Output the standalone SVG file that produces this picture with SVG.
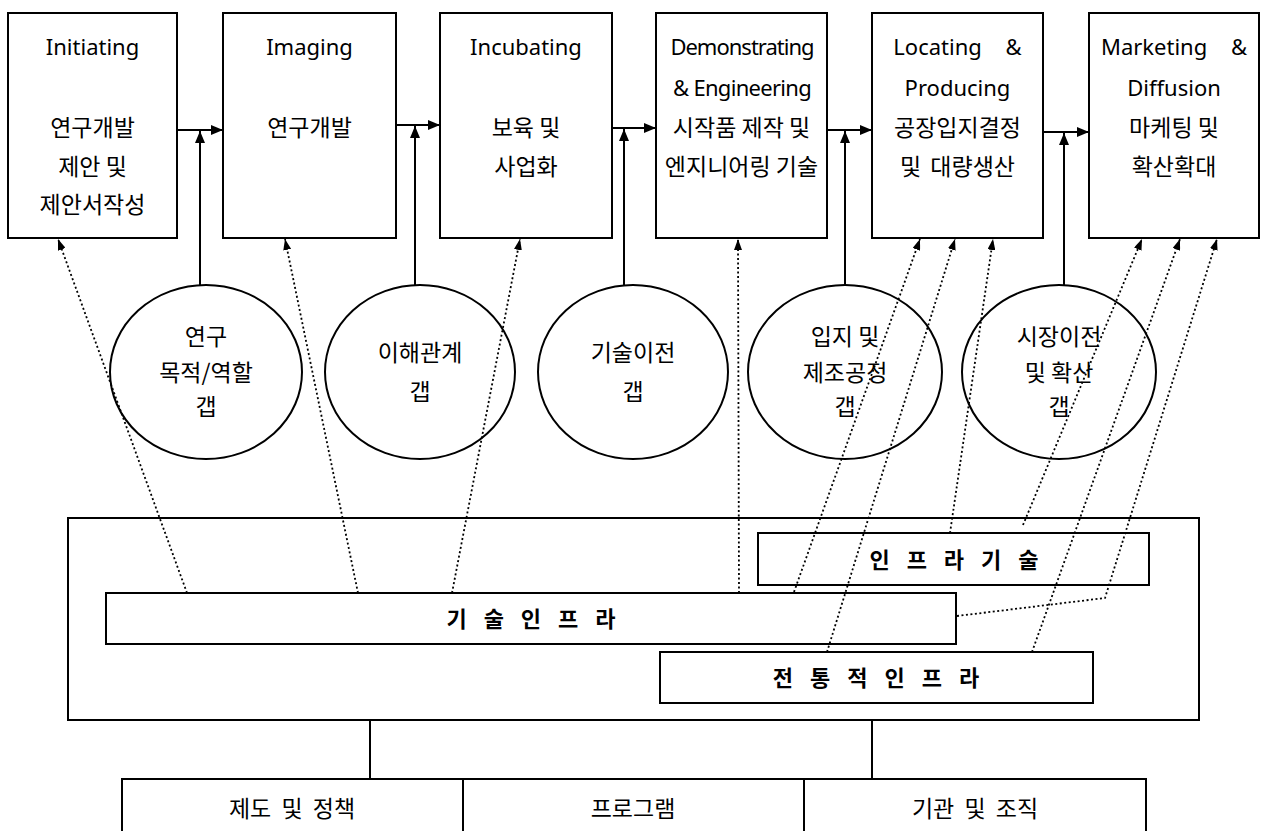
<svg xmlns="http://www.w3.org/2000/svg" width="1261" height="831" viewBox="0 0 1261 831">
<style>
.box{fill:#fff;stroke:#000;stroke-width:2}
.circ{fill:#fff;stroke:#000;stroke-width:2}
.solid{stroke:#000;stroke-width:2;fill:none}
.dot{stroke:#000;stroke-width:1.8;fill:none;stroke-dasharray:2 2.5}
.en{font-family:"Noto Sans","Noto Sans CJK KR",sans-serif;font-size:22px;text-anchor:middle;fill:#000}
.ko{font-family:"Noto Sans CJK KR",sans-serif;font-size:23px;text-anchor:middle;fill:#000}
.bar{font-family:"Noto Sans CJK KR",sans-serif;font-size:22px;font-weight:bold;letter-spacing:6px;text-anchor:middle;fill:#000}
.bot{font-family:"Noto Sans CJK KR",sans-serif;font-size:23px;text-anchor:middle;word-spacing:5px;fill:#000}
</style>
<defs>
<marker id="ah" viewBox="0 0 12 10" refX="12" refY="5" markerWidth="12" markerHeight="10" markerUnits="userSpaceOnUse" orient="auto">
<path d="M0,0 L12,5 L0,10 z" fill="#000"/>
</marker>
<marker id="ahd" viewBox="0 0 11 8" refX="11" refY="4" markerWidth="11" markerHeight="8" markerUnits="userSpaceOnUse" orient="auto">
<path d="M0,0 L11,4 L0,8 z" fill="#000"/>
</marker>
</defs>
<rect width="1261" height="831" fill="#fff"/>

<g id="connectors">
<line class="solid" x1="177" y1="130" x2="223" y2="130" marker-end="url(#ah)"/>
<line class="solid" x1="396" y1="125" x2="440" y2="125" marker-end="url(#ah)"/>
<line class="solid" x1="612" y1="128" x2="656" y2="128" marker-end="url(#ah)"/>
<line class="solid" x1="827" y1="130" x2="872" y2="130" marker-end="url(#ah)"/>
<line class="solid" x1="1043" y1="132" x2="1089" y2="132" marker-end="url(#ah)"/>
<line class="solid" x1="200" y1="285" x2="200" y2="131" marker-end="url(#ah)"/>
<line class="solid" x1="415" y1="285" x2="415" y2="126" marker-end="url(#ah)"/>
<line class="solid" x1="624" y1="285" x2="624" y2="129" marker-end="url(#ah)"/>
<line class="solid" x1="845" y1="285" x2="845" y2="131" marker-end="url(#ah)"/>
<line class="solid" x1="1064" y1="285" x2="1064" y2="133" marker-end="url(#ah)"/>
<line class="solid" x1="370" y1="720" x2="370" y2="779"/>
<line class="solid" x1="872" y1="720" x2="872" y2="779"/>
</g>

<g id="top-boxes">
<g id="initiating">
<rect class="box" x="8" y="13" width="169" height="225"/>
<text class="en" x="92.5" y="55">Initiating</text>
<text class="ko" x="92.5" y="136">연구개발</text>
<text class="ko" x="92.5" y="175">제안 및</text>
<text class="ko" x="92.5" y="213">제안서작성</text>
</g>
<g id="imaging">
<rect class="box" x="223" y="13" width="173" height="225"/>
<text class="en" x="309.5" y="55">Imaging</text>
<text class="ko" x="309.5" y="136">연구개발</text>
</g>
<g id="incubating">
<rect class="box" x="440" y="13" width="172" height="225"/>
<text class="en" x="526" y="55">Incubating</text>
<text class="ko" x="526" y="136">보육 및</text>
<text class="ko" x="526" y="175">사업화</text>
</g>
<g id="demonstrating">
<rect class="box" x="656" y="13" width="171" height="225"/>
<text class="en" x="742" y="55" font-size="20" letter-spacing="-1">Demonstrating</text>
<text class="en" x="742" y="96" font-size="21" letter-spacing="-0.7">&amp; Engineering</text>
<text class="ko" x="741.5" y="136" font-size="21">시작품 제작 및</text>
<text class="ko" x="741.5" y="175" font-size="21">엔지니어링 기술</text>
</g>
<g id="locating">
<rect class="box" x="872" y="13" width="171" height="225"/>
<text class="en" x="957.5" y="55" word-spacing="18">Locating &amp;</text>
<text class="en" x="957.5" y="96">Producing</text>
<text class="ko" x="957.5" y="136" font-size="24">공장입지결정</text>
<text class="ko" x="957.5" y="175" word-spacing="4">및 대량생산</text>
</g>
<g id="marketing">
<rect class="box" x="1089" y="13" width="170" height="225"/>
<text class="en" x="1174" y="55" word-spacing="18">Marketing &amp;</text>
<text class="en" x="1174" y="96">Diffusion</text>
<text class="ko" x="1174" y="136">마케팅 및</text>
<text class="ko" x="1174" y="175">확산확대</text>
</g>
</g>

<g id="gaps">
<g id="gap-research">
<ellipse class="circ" cx="206" cy="372" rx="96" ry="87"/>
<text class="ko" x="206" y="345">연구</text>
<text class="ko" x="206" y="381">목적/역할</text>
<text class="ko" x="206" y="415">갭</text>
</g>
<g id="gap-stakeholder">
<ellipse class="circ" cx="420" cy="372" rx="95" ry="87"/>
<text class="ko" x="420" y="361">이해관계</text>
<text class="ko" x="420" y="400">갭</text>
</g>
<g id="gap-transfer">
<ellipse class="circ" cx="633" cy="372" rx="95" ry="87"/>
<text class="ko" x="633" y="361">기술이전</text>
<text class="ko" x="633" y="400">갭</text>
</g>
<g id="gap-location">
<ellipse class="circ" cx="845" cy="372" rx="97" ry="87"/>
<text class="ko" x="845" y="345">입지 및</text>
<text class="ko" x="845" y="381">제조공정</text>
<text class="ko" x="845" y="415">갭</text>
</g>
<g id="gap-market">
<ellipse class="circ" cx="1059" cy="372" rx="97" ry="87"/>
<text class="ko" x="1059" y="345">시장이전</text>
<text class="ko" x="1059" y="381">및 확산</text>
<text class="ko" x="1059" y="415">갭</text>
</g>
</g>

<g id="infrastructure">
<rect id="outer-frame" class="box" x="68" y="518" width="1131" height="202"/>
<g id="infra-tech">
<rect class="box" x="758" y="533" width="391" height="52"/>
<text class="bar" x="957" y="568">인 프 라 기 술</text>
</g>
<g id="tech-infra">
<rect class="box" x="106" y="593" width="850" height="51"/>
<text class="bar" x="534" y="627">기 술 인 프 라</text>
</g>
<g id="traditional-infra">
<rect class="box" x="660" y="652" width="433" height="51"/>
<text class="bar" x="879" y="686">전 통 적 인 프 라</text>
</g>
</g>

<g id="dotted-connectors">
<line class="dot" x1="187" y1="593" x2="58" y2="239" marker-end="url(#ahd)"/>
<line class="dot" x1="358" y1="593" x2="285" y2="239" marker-end="url(#ahd)"/>
<line class="dot" x1="452" y1="593" x2="520" y2="239" marker-end="url(#ahd)"/>
<line class="dot" x1="739" y1="593" x2="738" y2="239" marker-end="url(#ahd)"/>
<line class="dot" x1="794" y1="592" x2="920" y2="239" marker-end="url(#ahd)"/>
<line class="dot" x1="827" y1="652" x2="955" y2="239" marker-end="url(#ahd)"/>
<line class="dot" x1="950" y1="533" x2="993" y2="239" marker-end="url(#ahd)"/>
<line class="dot" x1="1023" y1="525" x2="1142" y2="239" marker-end="url(#ahd)"/>
<line class="dot" x1="1032" y1="652" x2="1180" y2="239" marker-end="url(#ahd)"/>
<polyline class="dot" points="957,616 1105,598 1217,239" marker-end="url(#ahd)"/>
</g>

<g id="bottom-row">
<g id="policy">
<rect class="box" x="122" y="779" width="341" height="60"/>
<text class="bot" x="292" y="817">제도 및 정책</text>
</g>
<g id="program">
<rect class="box" x="463" y="779" width="341" height="60"/>
<text class="bot" x="633" y="817">프로그램</text>
</g>
<g id="organization">
<rect class="box" x="804" y="779" width="342" height="60"/>
<text class="bot" x="975" y="817">기관 및 조직</text>
</g>
</g>
</svg>
